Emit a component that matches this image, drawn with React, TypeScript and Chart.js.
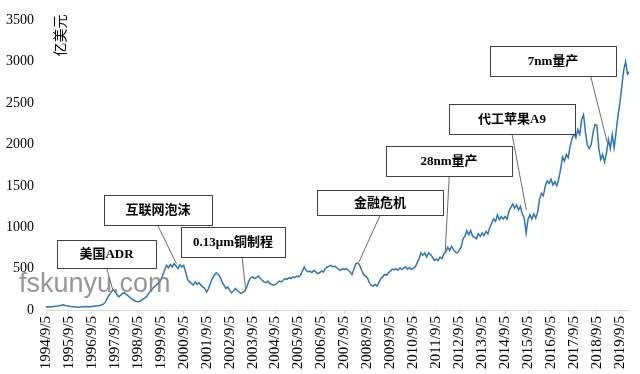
import React, { useEffect, useRef } from 'react';
import { Chart, registerables } from 'chart.js';

Chart.register(...registerables);

// Month index 0 = 1994/9 ; one value per month
const marketCap: number[] = [
  35, 38, 36, 40, 42, 45, 48, 52, 58, 62, 55, 50,
  46, 42, 40, 38, 36, 34, 36, 40, 38, 42, 40, 38,
  42, 45, 48, 50, 55, 60, 70, 95, 140, 180, 215, 245,
  225, 190, 160, 175, 200, 210, 185, 170, 150, 130, 115, 105,
  100, 105, 120, 135, 150, 175, 210, 240, 265, 290, 310, 330,
  360, 420, 480, 540, 510, 550, 520, 560, 530, 500, 545, 520,
  540, 460, 370, 340, 320, 300, 340, 310, 330, 300, 280, 260,
  215, 260, 330, 380, 420, 450, 430, 400, 340, 300, 260, 280,
  240, 210, 230, 260, 235, 215, 200, 215, 230, 280, 350, 390,
  400, 380, 390, 410, 380, 360, 340, 330, 350, 320, 310, 300,
  310, 330, 350, 340, 360, 380, 370, 390, 380, 400, 390, 410,
  400, 420, 470, 520, 480, 460, 470, 450, 480, 460, 440, 450,
  470, 460, 500, 520, 530, 540, 520, 530, 510, 490, 480, 500,
  490, 500, 480, 460, 430, 500, 560, 570, 540, 480, 430, 410,
  390, 330, 300, 290, 310, 290, 330, 380, 400, 430, 420, 450,
  470, 495, 485, 500, 480, 510, 490, 505, 520, 495, 510, 490,
  505, 520, 570, 620, 690, 660, 690, 640, 690, 670, 640, 600,
  615, 600, 640, 620, 680, 700, 760, 720, 770, 730, 700, 690,
  720, 760, 860, 890, 960, 910, 960, 890, 880, 860, 920, 890,
  930, 900, 950, 920, 1000, 1050, 1100, 1070, 1150, 1090, 1130, 1100,
  1130, 1100, 1190, 1240, 1280, 1230, 1270, 1210, 1250, 1160, 1110, 930,
  1100, 1150, 1100, 1160, 1110, 1180, 1340, 1410, 1380, 1500, 1560, 1530,
  1580, 1510, 1550, 1500, 1580, 1700, 1850, 1800, 1880, 1840, 1980, 2070,
  2130, 2080, 2180, 2120, 2300, 2360, 2150, 1990, 1950, 2000, 2150, 2240,
  2230, 1950, 1820, 1880, 1790, 1900, 2060, 1950, 2120, 1960, 2150, 2350,
  2500, 2700, 2900, 3000, 2850, 2880,
];

const tickMonths: number[] = [
  0, 12, 24, 36, 48, 60, 72, 84, 96, 108, 120, 132, 144,
  156, 168, 180, 192, 204, 216, 228, 240, 252, 264, 276, 288, 300,
];
const tickLabels: string[] = [
  '1994/9/5', '1995/9/5', '1996/9/5', '1997/9/5', '1998/9/5', '1999/9/5',
  '2000/9/5', '2001/9/5', '2002/9/5', '2003/9/5', '2004/9/5', '2005/9/5',
  '2006/9/5', '2007/9/5', '2008/9/5', '2009/9/5', '2010/9/5', '2011/9/5',
  '2012/9/5', '2013/9/5', '2014/9/5', '2015/9/5', '2016/9/5', '2017/9/5',
  '2018/9/5', '2019/9/5',
];
const yTicks: number[] = [0, 500, 1000, 1500, 2000, 2500, 3000, 3500];
const yTitle = '亿美元';
const watermark = 'fskunyu.com';

// Callouts: box centre and leader tip in data coordinates
const callouts = [
  { text: '美国ADR', boxMonth: 31.4, boxValue: 671, w: 99, h: 28, fromMonth: 31.7, tipMonth: 35.1, tipValue: 228 },
  { text: '互联网泡沫', boxMonth: 58.6, boxValue: 1212, w: 108, h: 30, fromMonth: 58.3, tipMonth: 68.2, tipValue: 560 },
  { text: '0.13μm铜制程', boxMonth: 97.8, boxValue: 816, w: 104, h: 30, fromMonth: 102.5, tipMonth: 104.3, tipValue: 260 },
  { text: '金融危机', boxMonth: 174.8, boxValue: 1300, w: 126, h: 25, fromMonth: 174.7, tipMonth: 163.6, tipValue: 580 },
  { text: '28nm量产', boxMonth: 210.9, boxValue: 1806, w: 126, h: 30, fromMonth: 210.8, tipMonth: 208.7, tipValue: 707 },
  { text: '代工苹果A9', boxMonth: 243.5, boxValue: 2310, w: 126, h: 30, fromMonth: 243.6, tipMonth: 251.1, tipValue: 1207 },
  { text: '7nm量产', boxMonth: 264.8, boxValue: 3012, w: 126, h: 30, fromMonth: 284.7, tipMonth: 293.4, tipValue: 2026 },
];

const overlayPlugin = {
  id: 'overlay',
  afterDatasetsDraw(chart: any) {
    const { ctx, scales, chartArea } = chart;
    const xs = scales.x;
    const ys = scales.y;
    ctx.save();
    for (const c of callouts) {
      const cx = xs.getPixelForValue(c.boxMonth);
      const cy = ys.getPixelForValue(c.boxValue);
      const left = Math.round(cx - c.w / 2);
      const top = Math.round(cy - c.h / 2);
      const fx = xs.getPixelForValue(c.fromMonth);
      const tx = xs.getPixelForValue(c.tipMonth);
      const ty = ys.getPixelForValue(c.tipValue);
      ctx.strokeStyle = '#6b6b6b';
      ctx.lineWidth = 1;
      ctx.beginPath();
      ctx.moveTo(fx, top + c.h);
      ctx.lineTo(tx, ty);
      ctx.stroke();
      ctx.fillStyle = '#ffffff';
      ctx.fillRect(left, top, c.w, c.h);
      ctx.strokeStyle = '#404040';
      ctx.strokeRect(left + 0.5, top + 0.5, c.w, c.h);
      ctx.fillStyle = '#000000';
      ctx.font = 'bold 13px "Liberation Serif", "Noto Sans CJK SC", serif';
      ctx.textAlign = 'center';
      ctx.textBaseline = 'middle';
      ctx.fillText(c.text, left + c.w / 2, top + c.h / 2 + 1);
    }
    // y-axis unit title
    ctx.save();
    ctx.translate(chartArea.left + 14, chartArea.top + 15);
    ctx.rotate(-Math.PI / 2);
    ctx.fillStyle = '#000000';
    ctx.font = '14px "Noto Sans CJK SC", serif';
    ctx.textAlign = 'center';
    ctx.textBaseline = 'middle';
    ctx.fillText(yTitle, 0, 0);
    ctx.restore();
    // watermark
    ctx.fillStyle = 'rgba(120,120,120,0.78)';
    ctx.font = '27px "Liberation Sans", sans-serif';
    ctx.textAlign = 'left';
    ctx.textBaseline = 'alphabetic';
    ctx.fillText(watermark, 19, 292);
    ctx.restore();
  },
};

export default function App() {
  const canvasRef = useRef<HTMLCanvasElement>(null);

  useEffect(() => {
    if (!canvasRef.current) return;
    const points = marketCap.map((v, i) => ({ x: i, y: v }));
    const chart = new Chart(canvasRef.current, {
      type: 'line',
      data: {
        datasets: [
          {
            data: points,
            borderColor: '#2e75b6',
            borderWidth: 1.5,
            pointRadius: 0,
            tension: 0,
            fill: false,
          },
        ],
      },
      options: {
        responsive: false,
        animation: false,
        layout: { padding: { left: 0, right: 7, top: 17, bottom: 0 } },
        plugins: { legend: { display: false }, tooltip: { enabled: false } },
        scales: {
          x: {
            type: 'linear',
            min: 0,
            max: 305,
            afterBuildTicks: (scale: any) => {
              scale.ticks = tickMonths.map((v) => ({ value: v }));
            },
            afterFit: (scale: any) => {
              scale.height = 64;
            },
            ticks: {
              autoSkip: false,
              minRotation: 90,
              maxRotation: 90,
              padding: 2,
              color: '#000000',
              font: { family: '"Liberation Serif", serif', size: 15 },
              callback: (value: any) => {
                const idx = tickMonths.indexOf(Number(value));
                return idx >= 0 ? tickLabels[idx] : '';
              },
            },
            grid: {
              display: true,
              drawOnChartArea: false,
              drawTicks: true,
              tickLength: 4,
              color: '#d9d9d9',
            },
            border: { display: true, color: '#d9d9d9', width: 1 },
          },
          y: {
            type: 'linear',
            min: 0,
            max: 3500,
            afterBuildTicks: (scale: any) => {
              scale.ticks = yTicks.map((v) => ({ value: v }));
            },
            afterFit: (scale: any) => {
              scale.width = 46;
            },
            ticks: {
              padding: 12,
              color: '#000000',
              font: { family: '"Liberation Serif", serif', size: 14 },
              callback: (value: any) => String(value),
            },
            grid: { display: false, drawTicks: false },
            border: { display: false },
          },
        },
      },
      plugins: [overlayPlugin],
    });
    return () => chart.destroy();
  }, []);

  return (
    <div style={{ position: 'fixed', left: 0, top: 0, width: 640, height: 374, background: '#ffffff' }}>
      <canvas ref={canvasRef} width={640} height={374} />
    </div>
  );
}
